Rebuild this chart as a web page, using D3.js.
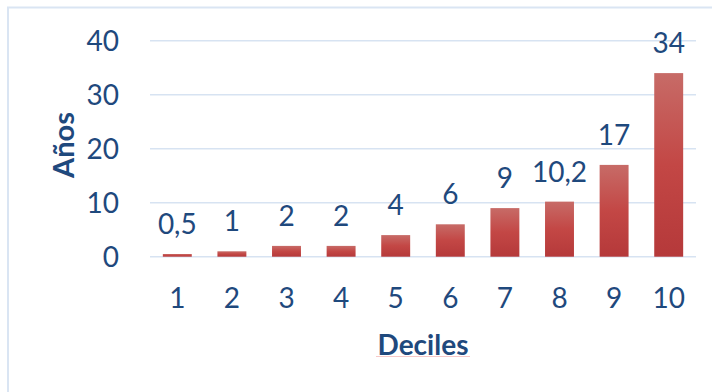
<!DOCTYPE html>
<html>
<head>
<meta charset="utf-8">
<script src="https://cdn.jsdelivr.net/npm/d3@7"></script>
<style>
  html, body { margin: 0; padding: 0; background: #fff; }
  svg { display: block; }
</style>
</head>
<body>
<svg id="chart" width="712" height="392"></svg>
<script>
// Years by income decile
const deciles = ["1", "2", "3", "4", "5", "6", "7", "8", "9", "10"];
const years = [0.5, 1, 2, 2, 4, 6, 9, 10.2, 17, 34];
const valueLabels = ["0,5", "1", "2", "2", "4", "6", "9", "10,2", "17", "34"];
const yTicks = [0, 10, 20, 30, 40];

const W = 712, H = 392;
const margin = { left: 150, right: 16, top: 40.7, bottom: 135.3 };
const textColor = "#1f497d";
const gridColor = "#d7e3f2";
const font = "Lato, 'Noto Sans', sans-serif";

const svg = d3.select("#chart");

// gradient fill for bars
const defs = svg.append("defs");
const grad = defs.append("linearGradient")
  .attr("id", "barFill").attr("x1", 0).attr("y1", 0).attr("x2", 0).attr("y2", 1);
grad.append("stop").attr("offset", "0%").attr("stop-color", "#c76b67");
grad.append("stop").attr("offset", "50%").attr("stop-color", "#c34745");
grad.append("stop").attr("offset", "100%").attr("stop-color", "#b5393a");

// outer frame
svg.append("rect")
  .attr("x", 8).attr("y", 7.5)
  .attr("width", W + 20).attr("height", H + 20)
  .attr("fill", "none").attr("stroke", "#dae5f3").attr("stroke-width", 2);

const x = d3.scaleBand()
  .domain(deciles)
  .range([margin.left, W - margin.right])
  .paddingInner(0.47).paddingOuter(0.235);

const y = d3.scaleLinear()
  .domain([0, 40])
  .range([H - margin.bottom, margin.top]);

// gridlines
svg.append("g")
  .selectAll("line")
  .data(yTicks)
  .join("line")
  .attr("x1", margin.left).attr("x2", W - margin.right)
  .attr("y1", d => y(d)).attr("y2", d => y(d))
  .attr("stroke", gridColor).attr("stroke-width", 1.6);

// y axis labels
const yAxis = d3.axisLeft(y).tickValues(yTicks).tickSize(0).tickPadding(0);
const gy = svg.append("g")
  .attr("transform", `translate(${margin.left - 31},0)`)
  .call(yAxis);
gy.select(".domain").remove();
gy.selectAll("text")
  .attr("fill", textColor)
  .attr("font-family", font)
  .attr("font-size", 28)
  .attr("dy", "0.35em");

// x axis labels
const xAxis = d3.axisBottom(x).tickSize(0).tickPadding(0);
const gx = svg.append("g")
  .attr("transform", `translate(0,${y(0)})`)
  .call(xAxis);
gx.select(".domain").remove();
gx.selectAll("text")
  .attr("fill", textColor)
  .attr("font-family", font)
  .attr("font-size", 28)
  .attr("dy", null)
  .attr("y", 51);

// bars
svg.append("g")
  .selectAll("rect")
  .data(years)
  .join("rect")
  .attr("x", (d, i) => x(deciles[i]))
  .attr("width", x.bandwidth())
  .attr("y", d => y(d))
  .attr("height", d => y(0) - y(d))
  .attr("fill", "url(#barFill)");

// value labels
svg.append("g")
  .selectAll("text")
  .data(years)
  .join("text")
  .attr("x", (d, i) => x(deciles[i]) + x.bandwidth() / 2)
  .attr("y", d => y(d) - 20)
  .attr("text-anchor", "middle")
  .attr("fill", textColor)
  .attr("font-family", font)
  .attr("font-size", 28)
  .text((d, i) => valueLabels[i]);

// axis titles
svg.append("text")
  .attr("x", 423).attr("y", 355)
  .attr("text-anchor", "middle")
  .attr("fill", textColor)
  .attr("font-family", font)
  .attr("font-weight", "bold")
  .attr("font-size", 28)
  .text("Deciles");

svg.append("line")
  .attr("x1", 376).attr("x2", 470)
  .attr("y1", 356.5).attr("y2", 356.5)
  .attr("stroke", "#f6c8c8").attr("stroke-width", 1);

svg.append("text")
  .attr("transform", "translate(74,145) rotate(-90)")
  .attr("text-anchor", "middle")
  .attr("fill", textColor)
  .attr("font-family", font)
  .attr("font-weight", "bold")
  .attr("font-size", 29)
  .text("Años");
</script>
</body>
</html>
